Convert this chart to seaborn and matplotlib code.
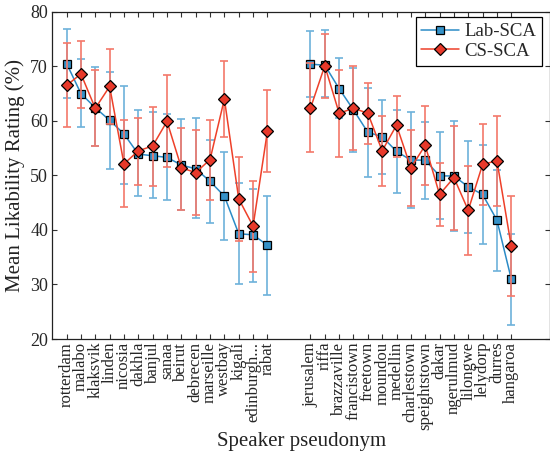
import numpy as np
import pandas as pd
import matplotlib
matplotlib.use("Agg")
import matplotlib.pyplot as plt
import seaborn as sns
from matplotlib.lines import Line2D

speakers = ["rotterdam", "malabo", "klaksvik", "linden", "nicosia", "dakhla", "banjul",
            "sanaa", "beirut", "debrecen", "marseille", "westbay", "kigali", "edinburgh...",
            "rabat",
            "jerusalem", "riffa", "brazzaville", "francistown", "freetown", "moundou",
            "medellin", "charlestown", "speightstown", "dakar", "ngerulmud", "lilongwe",
            "lelydorp", "durres", "hangaroa"]
group = [1] * 15 + [2] * 15

lab_mean = [70.5, 65.0, 62.4, 60.1, 57.6, 53.9, 53.6, 53.3, 51.9, 51.2, 48.9, 46.2, 39.3, 39.1, 37.2,
            70.4, 70.2, 65.9, 62.0, 57.9, 57.1, 54.4, 52.8, 52.8, 49.9, 49.9, 47.9, 46.5, 41.8, 31.0]
lab_hi = [76.8, 71.3, 69.9, 69.0, 66.4, 61.9, 61.6, 61.3, 60.3, 60.5, 56.5, 54.2, 48.6, 47.5, 46.3,
          76.5, 76.6, 71.5, 69.6, 66.0, 63.9, 62.0, 61.6, 59.8, 57.9, 59.9, 56.3, 55.5, 51.0, 39.3]
lab_lo = [64.2, 58.9, 55.3, 51.1, 48.5, 46.2, 45.8, 45.4, 43.7, 42.1, 41.3, 38.2, 30.1, 30.5, 28.1,
          64.3, 64.3, 60.5, 54.3, 49.7, 50.2, 46.7, 44.0, 45.7, 42.0, 39.8, 39.4, 37.5, 32.5, 22.6]

cs_mean = [66.5, 68.6, 62.3, 66.3, 52.1, 54.5, 55.4, 59.9, 51.4, 50.5, 52.9, 64.0, 45.7, 40.7, 58.1,
           62.3, 70.1, 61.4, 62.3, 61.4, 54.5, 59.2, 51.4, 55.5, 46.5, 49.6, 43.6, 52.0, 52.7, 37.0]
cs_hi = [74.3, 74.6, 69.3, 73.1, 60.1, 60.6, 62.6, 68.4, 58.7, 58.3, 60.2, 70.9, 53.4, 48.9, 65.6,
         70.6, 75.9, 69.3, 70.1, 67.0, 60.8, 64.5, 58.4, 62.7, 52.2, 59.1, 51.8, 59.5, 60.9, 46.2]
cs_lo = [58.9, 62.4, 55.3, 59.5, 44.2, 48.3, 48.0, 51.5, 43.7, 42.8, 45.4, 57.1, 37.9, 32.3, 50.7,
         54.2, 64.2, 53.4, 54.7, 55.7, 48.1, 53.4, 44.3, 48.2, 40.7, 39.9, 35.4, 44.6, 44.4, 27.9]

conditions = ["Lab-SCA", "CS-SCA"]
y_ticks = [20, 30, 40, 50, 60, 70, 80]

sns.set_theme(style="ticks")
plt.rcParams["font.family"] = ["Liberation Serif", "DejaVu Serif"]

# x positions: two groups separated by a gap
xpos = [i + 1 for i in range(15)] + [i + 18 for i in range(15)]

df = pd.DataFrame({
    "x": xpos * 2,
    "mean": lab_mean + cs_mean,
    "lo": lab_lo + cs_lo,
    "hi": lab_hi + cs_hi,
    "cond": ["Lab-SCA"] * 30 + ["CS-SCA"] * 30,
    "grp": group * 2,
})

fig = plt.figure(figsize=(5.5, 4.59), dpi=100)
ax = fig.add_axes([0.095, 0.2614, 0.905, 0.713])

line_col = {"Lab-SCA": "#2b8bc6", "CS-SCA": "#ee4029"}
face_col = {"Lab-SCA": "#3592c8", "CS-SCA": "#e8392a"}
err_col = {"Lab-SCA": "#6db1da", "CS-SCA": "#f4786a"}
markers = {"Lab-SCA": "s", "CS-SCA": "D"}
msize = {"Lab-SCA": 5.5, "CS-SCA": 6.5}

for k, cond in enumerate(conditions):
    d = df[df["cond"] == cond]
    yerr = np.vstack([d["mean"] - d["lo"], d["hi"] - d["mean"]])
    ax.errorbar(d["x"], d["mean"], yerr=yerr, fmt="none", ecolor=err_col[cond],
                elinewidth=1.2, capsize=3.2, capthick=1.2, zorder=2 + 2 * k)
    sns.lineplot(data=d, x="x", y="mean", units="grp", estimator=None, ax=ax,
                 color=line_col[cond], lw=1.1, marker=markers[cond], markersize=msize[cond],
                 markerfacecolor=face_col[cond], markeredgecolor="black",
                 markeredgewidth=0.9, legend=False, zorder=3 + 2 * k, sort=False)

ax.set_xlim(0, 34.7)
ax.set_ylim(20, 80)
ax.set_yticks(y_ticks)
ax.set_yticklabels([str(t) for t in y_ticks], fontsize=13)
ax.set_xticks(xpos)
ax.set_xticklabels(speakers, rotation=90, fontsize=12)
ax.tick_params(direction="in", top=True, right=True, length=3.5, width=0.8,
               color="#333333", pad=3)
ax.tick_params(axis="x", pad=2)
for s in ax.spines.values():
    s.set_linewidth(0.9)
    s.set_color("#222222")

ax.set_xlabel("Speaker pseudonym", fontsize=15, labelpad=2, color="#222222")
ax.set_ylabel("Mean Likability Rating (%)", fontsize=15, labelpad=4, color="#222222")

handles = [Line2D([], [], color=line_col[c], lw=1.1, marker=markers[c], markersize=msize[c],
                  markerfacecolor=face_col[c], markeredgecolor="black", markeredgewidth=0.9)
           for c in conditions]
leg = ax.legend(handles, conditions, loc="upper right", bbox_to_anchor=(0.984, 0.983),
                fontsize=13.5, frameon=True, fancybox=False, framealpha=1,
                edgecolor="black", handlelength=2.0, handletextpad=0.3,
                borderpad=0.3, labelspacing=0.15, borderaxespad=0)
leg.get_frame().set_linewidth(0.9)

fig.savefig("out.png", dpi=100)
